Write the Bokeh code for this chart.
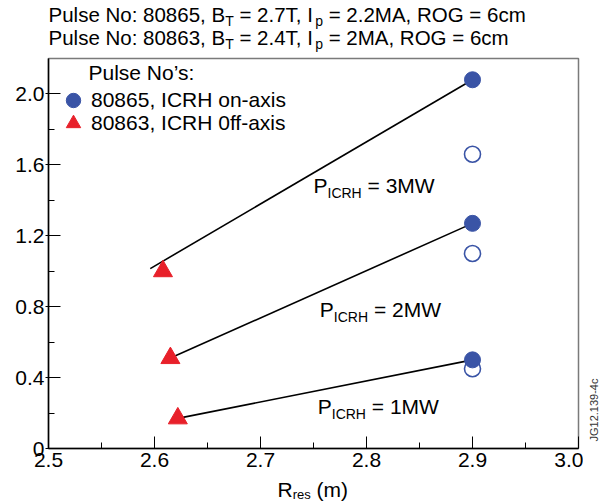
from bokeh.plotting import figure
from bokeh.layouts import column, row
from bokeh.models import Range1d, FixedTicker, Label, Legend, LegendItem
from bokeh.embed import file_html
from bokeh.resources import INLINE

# ---- data ----
x_on = [2.9, 2.9, 2.9]
y_on = [2.08, 1.27, 0.50]
x_on_open = [2.9, 2.9, 2.9]
y_on_open = [1.66, 1.10, 0.45]
x_off = [2.608, 2.615, 2.622]
y_off = [1.00, 0.51, 0.17]
fit_x0 = [2.596, 2.615, 2.622]
fit_y0 = [1.015, 0.51, 0.17]
fit_x1 = [2.9, 2.9, 2.9]
fit_y1 = [2.08, 1.27, 0.50]
powers = ["3MW", "2MW", "1MW"]
power_lx = [2.75, 2.756, 2.754]
power_ly = [1.484, 0.784, 0.237]
x_ticks = [2.5, 2.6, 2.7, 2.8, 2.9, 3.0]
x_tick_labels = ["2.5", "2.6", "2.7", "2.8", "2.9", "3.0"]
x_minor = [2.55, 2.65, 2.75, 2.85, 2.95]
y_ticks = [0, 0.4, 0.8, 1.2, 1.6, 2.0]
y_tick_labels = ["0", "0.4", "0.8", "1.2", "1.6", "2.0"]
y_minor = [0.2, 0.6, 1.0, 1.4, 1.8]
header1 = [("Pulse No: 80865, B", 0), ("T", 1), (" = 2.7T, I", 0), ("p", 1), (" = 2.2MA, ROG = 6cm", 0)]
header2 = [("Pulse No: 80863, B", 0), ("T", 1), (" = 2.4T, I", 0), ("p", 1), (" = 2MA, ROG = 6cm", 0)]
legend_title = "Pulse No\u2019s:"
legend_labels = ["80865, ICRH on-axis", "80863, ICRH 0ff-axis"]
xlabel = [("R", 0), ("res", 1), (" (m)", 0)]
fig_id = "JG12.139-4c"

BLUE = "#3a54a6"
RED = "#e8202a"
FONT = "Liberation Sans"

W = {' ': 278, "'": 191, '\u2019': 222, '(': 333, ')': 333, ',': 278, '-': 333, '.': 278,
     ':': 278, '=': 584, 'A': 667, 'B': 667, 'C': 722, 'G': 778, 'H': 722, 'I': 278,
     'J': 500, 'M': 833, 'N': 722, 'O': 778, 'P': 667, 'R': 722, 'T': 611, 'W': 944,
     'a': 556, 'c': 500, 'e': 556, 'f': 278, 'i': 222, 'l': 222, 'm': 833, 'n': 556,
     'o': 556, 'p': 556, 'r': 333, 's': 500, 'u': 556, 'x': 500}


def tw(s, size):
    return sum(W.get(c, 556) for c in s) * size / 1000.0


def blank(w, h):
    f = figure(width=w, height=h, output_backend="svg", toolbar_location=None,
               x_range=Range1d(0, w), y_range=Range1d(0, h), min_border=0,
               x_axis_location=None, y_axis_location=None)
    f.grid.visible = False
    f.outline_line_color = None
    f.background_fill_color = "white"
    f.border_fill_color = "white"
    return f


def rich(fig, pieces, size, sub_size, sub_drop, x0, y0, units="screen", x=0, y=0):
    """Place text pieces side by side; y0 is the vertical centre of the main text."""
    off = x0
    for text, sub in pieces:
        fs = sub_size if sub else size
        lead = len(text) - len(text.lstrip(' '))
        off += tw(' ' * lead, fs)
        t = text.strip(' ')
        yy = y0 - (sub_drop if sub else 0)
        if units == "data":
            lab = Label(x=x, y=y, x_offset=off, y_offset=yy, text=t)
        else:
            lab = Label(x=off, y=yy, x_units="screen", y_units="screen", text=t)
        lab.text_font = FONT
        lab.text_font_size = f"{fs}px"
        lab.text_color = "black"
        lab.text_baseline = "middle"
        lab.text_align = "left"
        fig.add_layout(lab)
        off += tw(t, fs)
        trail = len(text.lstrip(' ')) - len(t)
        off += tw(' ' * trail, fs)


# ---- header strip ----
HH = 56
head = blank(605, HH)
rich(head, header1, 20.5, 14, 6.5, x0=48, y0=HH - 14)
rich(head, header2, 20.5, 14, 6.5, x0=48, y0=HH - 36.5)

# ---- main plot ----
MH = 421
p = figure(width=583, height=MH, output_backend="svg", toolbar_location=None,
           x_range=Range1d(2.5, 3.0), y_range=Range1d(0, 2.2),
           min_border_left=48, min_border_right=5, min_border_top=2, min_border_bottom=29)
p.grid.visible = False
p.outline_line_color = "#7a7a7a"
p.outline_line_width = 1.5
p.background_fill_color = "white"
p.border_fill_color = "white"

for ax in (p.xaxis[0], p.yaxis[0]):
    ax.axis_line_color = "black"
    ax.axis_line_width = 1.5
    ax.major_tick_line_color = "black"
    ax.minor_tick_line_color = "black"
    ax.major_tick_line_width = 1
    ax.minor_tick_line_width = 1
    ax.major_tick_in = 12
    ax.minor_tick_in = 6
    ax.minor_tick_out = 0
    ax.major_label_text_font = FONT
    ax.major_label_text_font_size = "21px"
    ax.major_label_text_color = "black"

p.xaxis[0].ticker = FixedTicker(ticks=x_ticks, minor_ticks=x_minor)
p.xaxis[0].major_label_overrides = dict(zip(x_ticks, x_tick_labels))
p.xaxis[0].major_tick_out = 0
p.xaxis[0].major_label_standoff = 4
p.yaxis[0].ticker = FixedTicker(ticks=y_ticks, minor_ticks=y_minor)
p.yaxis[0].major_label_overrides = dict(zip(y_ticks, y_tick_labels))
p.yaxis[0].major_tick_out = 3
p.yaxis[0].major_label_standoff = 1

# fit lines
p.segment(x0=fit_x0, y0=fit_y0, x1=fit_x1, y1=fit_y1, line_color="black", line_width=1.6)

# markers
r_open = p.scatter(x_on_open, y_on_open, marker="circle", size=16, fill_color="white",
                   line_color=BLUE, line_width=1.6)
r_on = p.scatter(x_on, y_on, marker="circle", size=16, fill_color=BLUE, line_color=BLUE)
r_off = p.scatter(x_off, y_off, marker="triangle", size=19, fill_color=RED, line_color=RED)

# power labels
for lx, ly, pw in zip(power_lx, power_ly, powers):
    rich(p, [("P", 0), ("ICRH", 1), (" = " + pw, 0)], 21, 14, 7.5, x0=0, y0=0,
         units="data", x=lx, y=ly)

# legend
p.add_layout(Label(x=2.5, y=2.2, x_offset=40, y_offset=-14, text=legend_title,
                   text_font=FONT, text_font_size="21px", text_color="black",
                   text_baseline="middle"))
for lab, rend, ybot in zip(legend_labels, [r_on, r_off], [329, 306]):
    lg = Legend(items=[LegendItem(label=lab, renderers=[rend])],
                location=(7, ybot), margin=0, padding=0, spacing=0,
                glyph_width=36, glyph_height=38, label_standoff=0,
                label_text_font=FONT, label_text_font_size="21px",
                label_text_color="black",
                background_fill_alpha=0, border_line_alpha=0)
    p.add_layout(lg)

# ---- right strip with figure id (its frame lines up with the main frame) ----
side = blank(22, MH)
side.add_layout(Label(x=10, y=38.5, x_units="screen", y_units="screen", text=fig_id, angle=90,
                      angle_units="deg", text_font=FONT, text_font_size="11px",
                      text_color="#333333", text_baseline="middle", text_align="center"))

# ---- footer with x axis label ----
FH = 502 - HH - MH
foot = blank(605, FH)
rich(foot, xlabel, 21, 13, 5, x0=277, y0=FH - 12)

layout = column(head, row(p, side, spacing=0), foot, spacing=0)
open("out.html", "w").write(file_html(layout, INLINE))
